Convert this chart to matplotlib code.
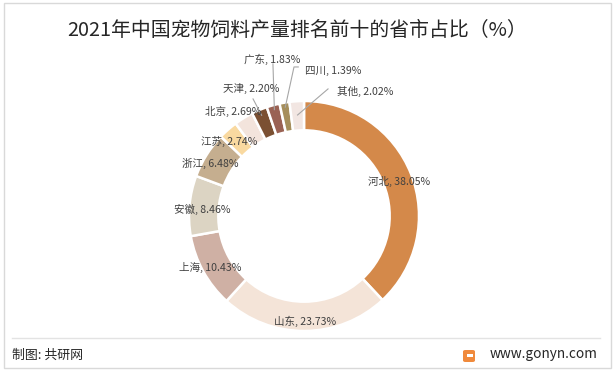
import matplotlib
matplotlib.use("Agg")
import matplotlib.pyplot as plt
from matplotlib.patches import Rectangle, FancyBboxPatch
from matplotlib.lines import Line2D
import numpy as np

plt.rcParams['font.family'] = ['Noto Sans CJK SC', 'DejaVu Sans']

# ---- data ----
provinces = ['河北', '山东', '上海', '安徽', '浙江', '江苏', '北京', '天津', '广东', '四川', '其他']
shares = [38.05, 23.73, 10.43, 8.46, 6.48, 2.74, 2.69, 2.20, 1.83, 1.39, 2.02]
colors = ['#D4894A', '#F4E4D8', '#CFB0A4', '#DCD4C3', '#C5AE8F', '#F9D9A0',
          '#F3E4DC', '#7B5032', '#9A6254', '#A58E5B', '#F2E6E2']
title = '2021年中国宠物饲料产量排名前十的省市占比（%）'

# ---- layout (label positions in units of the pie radius) ----
label_pos = [(0.826, 0.296), (0.009, -0.913), (-0.817, -0.452), (-0.887, 0.061),
             (-0.817, 0.461), (-0.652, 0.652), (-0.617, 0.905), (-0.461, 1.113),
             (-0.278, 1.366), (0.252, 1.261), (0.530, 1.079)]
# leader-line start points (None = no leader)
leader_start = [None, None, None, None, None, None, None,
                [(-0.443, 1.018)], [(-0.27, 1.322)], [(-0.05, 1.296), (-0.087, 1.296)],
                [(0.209, 1.105)]]
leader_r = [None] * 7 + [0.95, 0.96, 0.96, 0.88]

W, H = 615, 371
fig = plt.figure(figsize=(W / 100, H / 100), dpi=100)
cx, cy, R = 304, 216, 115
ax = fig.add_axes([0, 0, 1, 1])

wedges, _ = ax.pie(shares, colors=colors, startangle=90, counterclock=False,
                   radius=1.0, wedgeprops=dict(width=0.255, edgecolor='white', linewidth=1.8))
ax.set_aspect('auto')
ax.set_xlim(-cx / R, (W - cx) / R)
ax.set_ylim(-(H - cy) / R, cy / R)
ax.axis('off')

total = sum(shares)
cum = 0
for i, (name, v) in enumerate(zip(provinces, shares)):
    mid = 90 - (cum + v / 2) / total * 360
    cum += v
    lx, ly = label_pos[i]
    ax.text(lx, ly, f'{name}, {v:.2f}%', ha='center', va='center',
            fontsize=7.6, color='#404040')
    if leader_start[i] is not None:
        r = leader_r[i]
        ex, ey = r * np.cos(np.radians(mid)), r * np.sin(np.radians(mid))
        pts = leader_start[i] + [(ex, ey)]
        xs = [p[0] for p in pts]
        ys = [p[1] for p in pts]
        ax.plot(xs, ys, color='#A6A6A6', lw=0.8)

# title
fig.text(297 / W, 1 - 30 / H, title, ha='center', va='center', fontsize=14.3, color='#262626')

# border
fig.add_artist(Rectangle((4 / W, 3 / H), (W - 8) / W, (H - 6) / H, transform=fig.transFigure,
                         fill=False, edgecolor='#D9D9D9', lw=1.0))
# separator
fig.add_artist(Line2D([12 / W, 600 / W], [1 - 338 / H, 1 - 338 / H], transform=fig.transFigure,
                      color='#E3E3E3', lw=1.0))
# footer
fig.text(12 / W, 1 - 355 / H, '制图: 共研网', ha='left', va='center', fontsize=9.3, color='#262626')
fig.text(597 / W, 1 - 354 / H, 'www.gonyn.com', ha='right', va='center', fontsize=9.8, color='#262626')
fig.add_artist(FancyBboxPatch((463 / W, 1 - 362 / H), 12 / W, 12 / H, transform=fig.transFigure,
                              boxstyle='round,pad=0,rounding_size=0.004', facecolor='#F08A3C',
                              edgecolor='none'))
fig.add_artist(Rectangle((467 / W, 1 - 357 / H), 6 / W, 3 / H, transform=fig.transFigure,
                         facecolor='white', edgecolor='none'))

fig.savefig('out.png', dpi=100, facecolor='white')
